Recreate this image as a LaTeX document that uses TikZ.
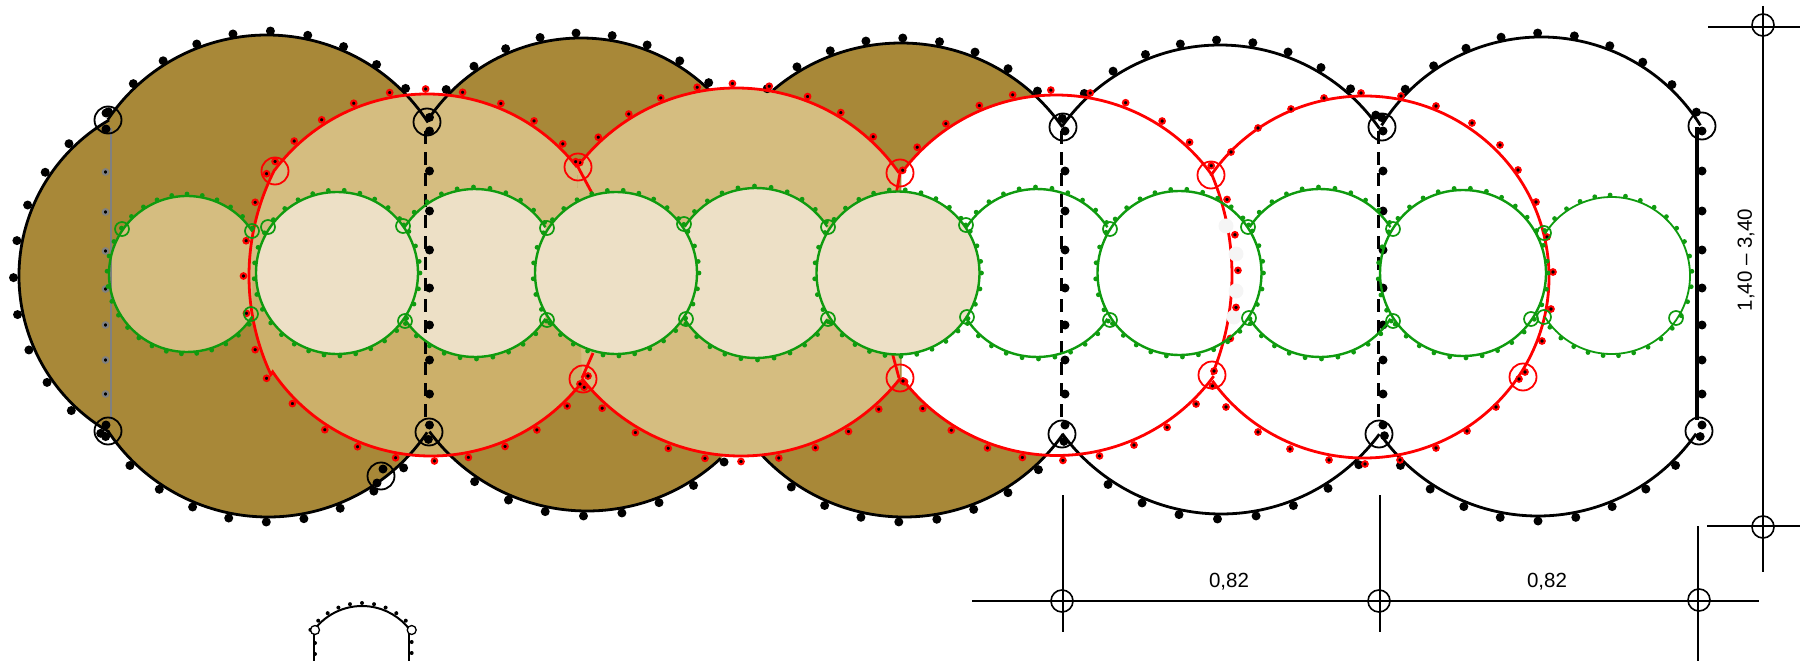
\documentclass[tikz,border=0pt]{standalone}
\usepackage{fontspec}
\setmainfont{Liberation Sans}
\usetikzlibrary{calc}
\definecolor{darktan}{HTML}{A88838}
\definecolor{lighttan}{HTML}{D5BD80}
\definecolor{lowtan}{HTML}{CCB06A}
\definecolor{creamtan}{HTML}{EDE0C6}
\definecolor{ribgreen}{HTML}{0F9B0F}
\definecolor{paleblob}{HTML}{F5F5F5}
\tikzset{
  blackrib/.style={draw=black, line width=2.8pt},
  redrib/.style={draw=red, line width=2.8pt},
  greenrib/.style={draw=ribgreen, line width=2.4pt},
  blackdot/.style={fill=black, draw=none},
  reddot/.style={fill=black, draw=red, line width=2pt},
  greydot/.style={fill=black, draw=gray, line width=2pt},
  greendot/.style={fill=ribgreen, draw=none},
  blackring/.style={circle, draw=black, line width=1.8pt, minimum size=27pt, inner sep=0pt},
  redring/.style={circle, draw=red, line width=1.8pt, minimum size=27pt, inner sep=0pt},
  greenring/.style={circle, draw=ribgreen, line width=1.7pt, minimum size=14pt, inner sep=0pt},
  gridring/.style={circle, draw=black, line width=1.6pt, minimum size=22pt, inner sep=0pt},
  gridline/.style={draw=black, line width=1.7pt},
  dimlabel/.style={font=\fontsize{20.5}{24}\selectfont}
}
\newcommand{\ribarc}[5]{($(#1,#2)+(#4:#3)$) arc[start angle=#4,end angle=#5,radius=#3]}
\newcommand{\ribto}[5]{-- ($(#1,#2)+(#4:#3)$) arc[start angle=#4,end angle=#5,radius=#3]}
\newcommand{\ribdots}[6]{\foreach \a in {#4} \filldraw[#5] ($(#1,#2)+(\a:#3)$) circle[radius=#6];}
\begin{document}
\begin{tikzpicture}[x=1pt, y=-1pt]
\useasboundingbox (0,0) rectangle (1800,661);
\fill[darktan] \ribarc{199}{276}{180}{120}{240} \ribto{267}{227}{192}{-146}{-33} \ribto{268}{325}{192}{34}{146.5} -- cycle;
\fill[darktan] \ribarc{581}{222}{184}{-147}{-33} \ribto{587}{315}{196}{33}{143.5} -- cycle;
\fill[darktan] \ribarc{901}{240}{197}{-146}{-35} \ribto{904}{323}{194}{35}{147} -- cycle;
\fill[white] \ribarc{1056}{287}{192}{-143.7}{-35.8} \ribto{972}{275}{260}{-22.7}{22.6} \ribto{1057}{261}{194.5}{36.3}{143} -- cycle;
\fill[lighttan] \ribarc{431}{265}{191}{37}{146} \ribto{482}{276}{233}{155}{207} \ribto{427}{284.5}{190.5}{-143}{-38} -- cycle;
\fill[lowtan] \ribarc{482}{276}{233}{180}{155} \ribto{431}{265}{191}{146}{37} -- (590,276) -- cycle;
\fill[lighttan] \ribarc{736}{287}{199}{-143}{-35} \ribto{741}{254}{202}{38}{142} -- cycle;
\draw[redrib] (578,167) -- (593,195);
\draw[redrib] (582,378) -- (593,353);
\draw[redrib] (900,173) -- (896,195);
\draw[redrib] (899,378) -- (892,352);
\fill[lighttan] \ribarc{187}{274}{78}{-33}{-327} -- cycle;
\foreach \x/\r in {337/81,616/81,898/81.5} \fill[creamtan] (\x,273) circle[radius=\r];
\foreach \x/\r in {475/84,756/85} \fill[creamtan] \ribarc{\x}{273}{\r}{-147}{-33} \ribto{\x}{273}{\r}{33}{147} -- cycle;
\draw[gray, line width=2.5pt] (111,128) -- (111,420);
\foreach \x in {425,1061,1378} \draw[black, line width=3pt, dash pattern=on 13pt off 8pt] (\x,131) -- (\x,425);
\draw[black, line width=3.4pt] (1697,127) -- (1697,420);
\foreach \x in {429.5,1065,1383,1702} \foreach \y in {131,171,211,250,288,325,360,394,425} \fill[blackdot] (\x,\y) circle[radius=4.5];
\foreach \y in {172,212,251,289,325,360,394} \filldraw[greydot] (105.5,\y) circle[radius=2.8];
\foreach \y in {113,129,425} \fill[blackdot] (106,\y) circle[radius=4.5];
\draw[blackrib] \ribarc{199}{276}{180}{120}{240};
\draw[blackrib] \ribarc{267}{227}{192}{-146}{-33};
\draw[blackrib] \ribarc{268}{325}{192}{34}{146.5};
\draw[blackrib] \ribarc{581}{222}{184}{-147}{-46};
\draw[blackrib] \ribarc{587}{315}{196}{143.5}{47};
\draw[blackrib] \ribarc{901}{240}{197}{-130.5}{-35};
\draw[blackrib] \ribarc{904}{323}{194}{137}{35};
\draw[blackrib] \ribarc{1220}{239}{194}{-144.5}{-34.7};
\draw[blackrib] \ribarc{1221}{317}{197}{143.7}{36.5};
\draw[blackrib] \ribarc{1541}{225}{188}{-148}{-32};
\draw[blackrib] \ribarc{1538}{323}{193}{144}{35};
\ribdots{199}{276}{185.5}{122,133.5,...,227}{blackdot}{4.5}
\ribdots{267}{227}{196}{-144,-133,...,-34}{blackdot}{4.5}
\ribdots{268}{325}{197}{35.5,46.5,...,145.5}{blackdot}{4.5}
\ribdots{581}{222}{189}{-135.5,-124.5,...,-44}{blackdot}{4.5}
\ribdots{587}{315}{201}{47,58,...,133}{blackdot}{4.5}
\ribdots{901}{240}{202}{-131.5,-121,...,-36}{blackdot}{4.5}
\ribdots{904}{323}{199}{36.5,47.5,...,134}{blackdot}{4.5}
\ribdots{1220}{239}{199}{-133,-122.5,...,-36}{blackdot}{4.5}
\ribdots{1221}{317}{202}{36,47,...,133}{blackdot}{4.5}
\ribdots{1541}{225}{192}{-146,-135,...,-33}{blackdot}{4.5}
\ribdots{1538}{323}{198}{35,46,...,134}{blackdot}{4.5}
\foreach \x/\y in {383/469,377/483} \fill[blackdot] (\x,\y) circle[radius=4.5];
\draw[redrib] \ribarc{431}{265}{191}{37}{146} \ribto{482}{276}{233}{155}{207} \ribto{427}{284.5}{190.5}{-143}{-38};
\draw[redrib] \ribarc{736}{287}{199}{-143}{-35};
\draw[redrib] \ribarc{741}{254}{202}{38}{142};
\draw[redrib] \ribarc{1056}{287}{192}{-143.7}{-35.8};
\draw[redrib] \ribarc{972}{275}{260}{-22.7}{22.6};
\draw[redrib] \ribarc{1057}{261}{194.5}{36.3}{143};
\draw[redrib] ($(1364,277)+(-146:185 and 181)$) arc[start angle=-146,end angle=145,x radius=185,y radius=181];
\foreach \x/\y in {1226/226,1236/254,1236/291,1234/317} \fill[paleblob] (\x,\y) circle[radius=7.5];
\ribdots{427}{284.5}{195.5}{-141,-132.8,-122.6,-112,-101,-90.4,-79.5,-67.8,-56.8,-46,-38.6}{reddot}{2.8}
\ribdots{482}{276}{238.5}{154.6,162,171,180,188.5,198,205.4}{reddot}{2.8}
\ribdots{431}{265}{196}{38.6,46,57.3,67.8,79,89,100.4,112,122.8,135}{reddot}{2.8}
\ribdots{736}{287}{203.5}{-142,-132.6,-121.8,-111.7,-101,-91,-80.6,-69.4,-59,-47.6,-35}{reddot}{2.8}
\ribdots{741}{254}{207.5}{38,48.4,58.8,69,79.5,90,100,110.5,120.6,132}{reddot}{2.8}
\ribdots{1056}{287}{197}{-134.8,-124,-112.9,-102.7,-91.5,-80,-69.3,-57.4,-47.3,-38}{reddot}{2.8}
\ribdots{1057}{261}{199.5}{38.8,45.8,56.5,67.3,77.7,88.3,100,110.4,122,132.3}{reddot}{2.8}
\ribdots{972}{275}{266}{-16.5,-8.7,-1,7,13.8}{reddot}{2.8}
\foreach \x/\y in {1231/152,1258/128,1291/109,1324/98,1361/93,1401/96,1436/106,1472/123,1500/145,1518/170,1536/202,1547/237,1553/272,1551/309,1542/341,1525/372,1519/379,1496/407,1467/431,1436/448,1400/460,1365/464,1329/460,1290/449,1258/432,1226/407,1214/371,588/376,580/384,903/381}
  \filldraw[reddot] (\x,\y) circle[radius=2.8];
\draw[greenrib] \ribarc{187}{274}{78}{-33}{-327};
\foreach \x/\r in {337/81,616/81,898/81.5,1179.5/82,1463/83} {
  \draw[greenrib] (\x,273) circle[radius=\r];
  \ribdots{\x}{273}{\r+2}{0,11,...,352}{greendot}{2.4}
}
\foreach \x/\r in {475/84,756/85,1037/84,1320/84} {
  \draw[greenrib] \ribarc{\x}{273}{\r}{-147}{-33};
  \draw[greenrib] \ribarc{\x}{273}{\r}{33}{147};
  \ribdots{\x}{273}{\r+2}{-146,-135,...,-34}{greendot}{2.4}
  \ribdots{\x}{273}{\r+2}{34,45,...,146}{greendot}{2.4}
}
\ribdots{187}{274}{80}{-35,-46,...,-325}{greendot}{2.4}
\draw[ribgreen, line width=1.8pt] \ribarc{1611.5}{275.5}{78.5}{-148}{148};
\ribdots{1611.5}{275.5}{80.5}{-146,-135,...,146}{greendot}{2.4}
\foreach \x/\y [count=\i] in {108/120,427/122,108/431,429/432,381/476,1063/127,1382/127,1702/126,1062/434,1379/434,1699/431}
  \node[blackring] (bay\i) at (\x,\y) {};
\foreach \x/\y [count=\i] in {275/171,578/167,900/173,1211/175,583/379,900/378,1212/375,1523/377}
  \node[redring] (cross\i) at (\x,\y) {};
\foreach \x/\y [count=\i] in {122/229,252/231,268/227,403/226,547/228,684/224,828/227,966/225,1110/229,1248/227,1393/229,1544/233,251/314,405/321,547/320,686/319,828/319,967/317,1110/320,1249/318,1393/321,1531/319,1544/317,1676/318}
  \node[greenring] (eye\i) at (\x,\y) {};
\draw[gridline] (972,601) -- (1759,601);
\draw[gridline] (1063,495) -- (1063,632);
\draw[gridline] (1380,495) -- (1380,632);
\draw[gridline] (1698,526) -- (1698,661);
\draw[gridline] (1708,27) -- (1800,27);
\draw[gridline] (1707,526) -- (1800,526);
\draw[gridline] (1763,6) -- (1763,572);
\foreach \x/\y [count=\i] in {1062/601,1379/601,1699/600,1763/25,1763/527}
  \node[gridring] (axis\i) at (\x,\y) {};
\node[dimlabel] (spanleft) at (1229,582) {0,82};
\node[dimlabel] (spanright) at (1547,582) {0,82};
\node[dimlabel, rotate=90] (rise) at (1746,260) {1,40 – 3,40};
\draw[black, line width=2pt] \ribarc{362}{666}{60}{-142.5}{-37};
\draw[black, line width=2pt] (313.5,630) -- (313.5,661);
\draw[black, line width=2pt] (409,630) -- (409,661);
\ribdots{362}{666}{63}{-145,-134,...,-35}{blackdot}{2}
\foreach \x/\y in {315/643,315/654,411.7/642,411.7/653} \fill[blackdot] (\x,\y) circle[radius=2];
\foreach \x/\y [count=\i] in {315/630,411.7/630}
  \node[circle, draw=black, line width=1.3pt, fill=white, minimum size=9pt, inner sep=0pt] (foot\i) at (\x,\y) {};
\end{tikzpicture}
\end{document}
